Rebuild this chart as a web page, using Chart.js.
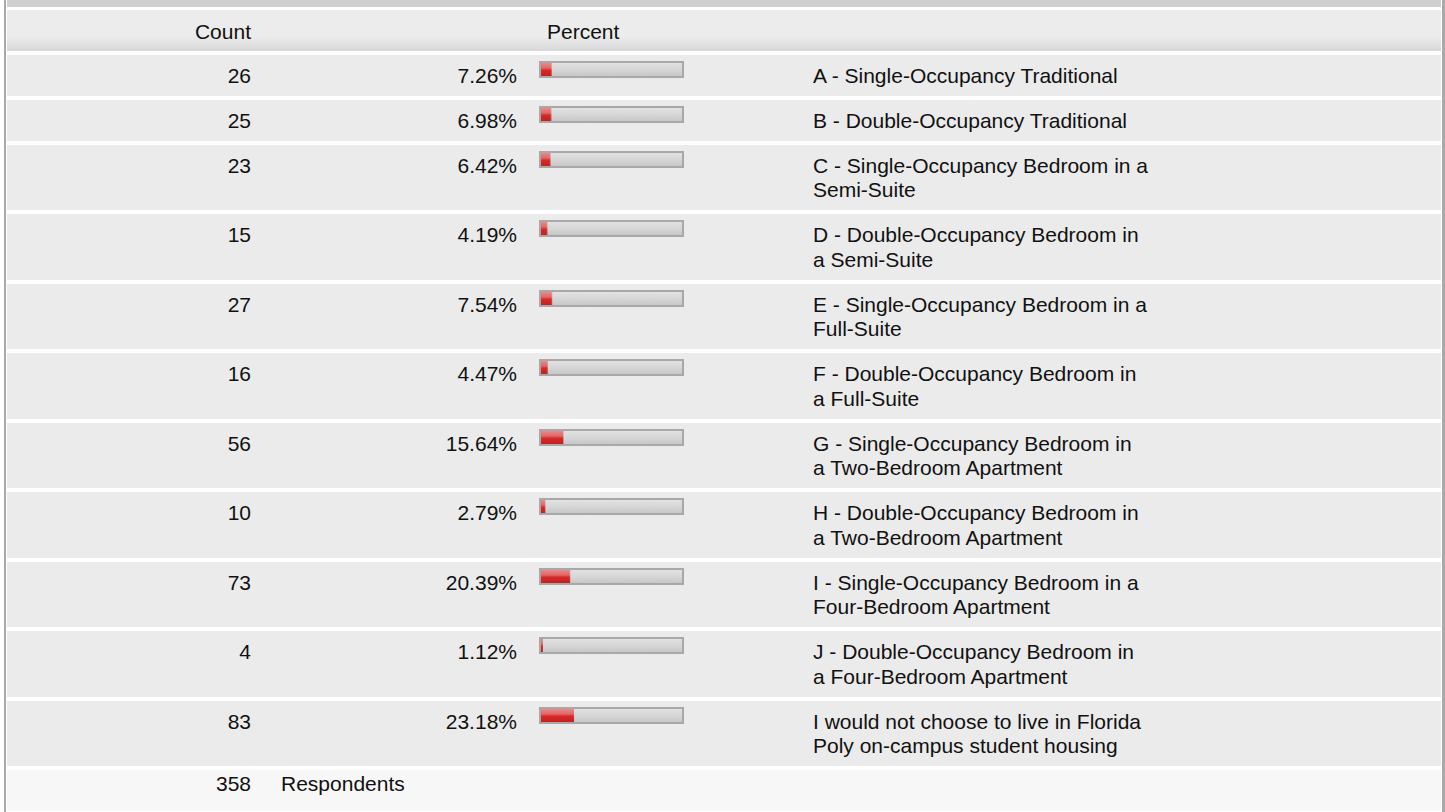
<!DOCTYPE html>
<html>
<head>
<meta charset="utf-8">
<script src="https://cdn.jsdelivr.net/npm/chart.js@4"></script>
<style>
  html, body { margin:0; padding:0; background:#ffffff; }
  body { width:1445px; height:812px; position:relative; overflow:hidden;
         font-family:"Liberation Sans", Arial, sans-serif; font-size:21px; color:#111111; }
  .topband { position:absolute; left:7px; top:0; width:1434px; height:7px; background:#d0d0d0; }
  .lborder { position:absolute; left:4px; top:0; width:2px; height:812px; background:#a9a9a9; }
  .rborder { position:absolute; left:1442px; top:0; width:3px; height:812px; background:#a9a9a9; }
  #table { position:absolute; left:7px; top:10px; width:1434px; }
  .row { position:relative; background:#ebebeb; padding:9px 0 7px 0; line-height:24.75px; margin-bottom:4px; }
  .row.head { background:linear-gradient(to bottom, #ececec 0%, #ececec 62%, #d8d8d8 100%); padding:10px 0 6.25px 0; }
  .row.foot { background:#f7f7f7; padding:2px 0 13.75px 0; }
  .cell { position:absolute; top:inherit; }
  .count { position:absolute; left:0; width:244px; text-align:right; }
  .pct { position:absolute; left:0; width:510px; text-align:right; }
  .phead { position:absolute; left:540px; }
  .resp { position:absolute; left:274px; }
  .bar { position:absolute; left:532px; top:6px; line-height:0; }
  .bar canvas { border:2px solid #a8a8a8; display:block; }
  .label { margin-left:806px; min-height:24.75px; }
</style>
</head>
<body>
<div class="topband"></div>
<div class="lborder"></div>
<div class="rborder"></div>
<div id="table"></div>
<script>
// ---- data ----
const headers = ["Count", "Percent"];
const categories = [
  ["A - Single-Occupancy Traditional"],
  ["B - Double-Occupancy Traditional"],
  ["C - Single-Occupancy Bedroom in a", "Semi-Suite"],
  ["D - Double-Occupancy Bedroom in", "a Semi-Suite"],
  ["E - Single-Occupancy Bedroom in a", "Full-Suite"],
  ["F - Double-Occupancy Bedroom in", "a Full-Suite"],
  ["G - Single-Occupancy Bedroom in", "a Two-Bedroom Apartment"],
  ["H - Double-Occupancy Bedroom in", "a Two-Bedroom Apartment"],
  ["I - Single-Occupancy Bedroom in a", "Four-Bedroom Apartment"],
  ["J - Double-Occupancy Bedroom in", "a Four-Bedroom Apartment"],
  ["I would not choose to live in Florida", "Poly on-campus student housing"]
];
const counts = [26, 25, 23, 15, 27, 16, 56, 10, 73, 4, 83];
const percents = [7.26, 6.98, 6.42, 4.19, 7.54, 4.47, 15.64, 2.79, 20.39, 1.12, 23.18];
const totalRespondents = 358;
const totalLabel = "Respondents";

// ---- build table ----
const table = document.getElementById('table');
function el(tag, cls, text) {
  const e = document.createElement(tag);
  if (cls) e.className = cls;
  if (text !== undefined) e.textContent = text;
  return e;
}
function placeTop(node, px) { node.style.top = px + 'px'; return node; }

const head = el('div', 'row head');
head.appendChild(placeTop(el('div', 'count', headers[0]), 10));
head.appendChild(placeTop(el('div', 'phead', headers[1]), 10));
head.appendChild(el('div', 'label', '\u00a0'));
table.appendChild(head);

function vGrad(chart, stops) {
  const a = chart.chartArea;
  if (!a) return stops[stops.length - 1][1];
  const g = chart.ctx.createLinearGradient(0, a.top, 0, a.bottom);
  stops.forEach(s => g.addColorStop(s[0], s[1]));
  return g;
}
const redStops = [[0, '#e98a8a'], [0.4, '#e06666'], [0.55, '#d32c2c'], [1, '#c91e1e']];
const grayStops = [[0, '#e2e2e2'], [0.5, '#d7d7d7'], [1, '#c8c8c8']];

categories.forEach((lines, i) => {
  const row = el('div', 'row');
  row.appendChild(placeTop(el('div', 'count', String(counts[i])), 9));
  row.appendChild(placeTop(el('div', 'pct', percents[i].toFixed(2) + '%'), 9));
  const barWrap = el('div', 'bar');
  const cv = document.createElement('canvas');
  cv.width = 145; cv.height = 17;
  cv.style.width = '145px'; cv.style.height = '17px';
  barWrap.appendChild(cv);
  row.appendChild(barWrap);
  const lab = el('div', 'label');
  lines.forEach((ln, k) => {
    if (k) lab.appendChild(document.createElement('br'));
    lab.appendChild(document.createTextNode(ln));
  });
  row.appendChild(lab);
  table.appendChild(row);

  new Chart(cv, {
    type: 'bar',
    data: {
      labels: [lines.join(' ')],
      datasets: [
        { data: [percents[i]], grouped: false, barPercentage: 1, categoryPercentage: 1,
          borderWidth: 0, backgroundColor: ctx => vGrad(ctx.chart, redStops) },
        { data: [100], grouped: false, barPercentage: 1, categoryPercentage: 1,
          borderWidth: 0, backgroundColor: ctx => vGrad(ctx.chart, grayStops) }
      ]
    },
    options: {
      indexAxis: 'y',
      responsive: false,
      maintainAspectRatio: false,
      animation: false,
      events: [],
      layout: { padding: 0 },
      plugins: { legend: { display: false }, tooltip: { enabled: false } },
      scales: {
        x: { display: false, min: 0, max: 100 },
        y: { display: false }
      }
    }
  });
});

const foot = el('div', 'row foot');
foot.appendChild(placeTop(el('div', 'count', String(totalRespondents)), 2));
foot.appendChild(placeTop(el('div', 'resp', totalLabel), 2));
foot.appendChild(el('div', 'label', '\u00a0'));
table.appendChild(foot);
</script>
</body>
</html>
